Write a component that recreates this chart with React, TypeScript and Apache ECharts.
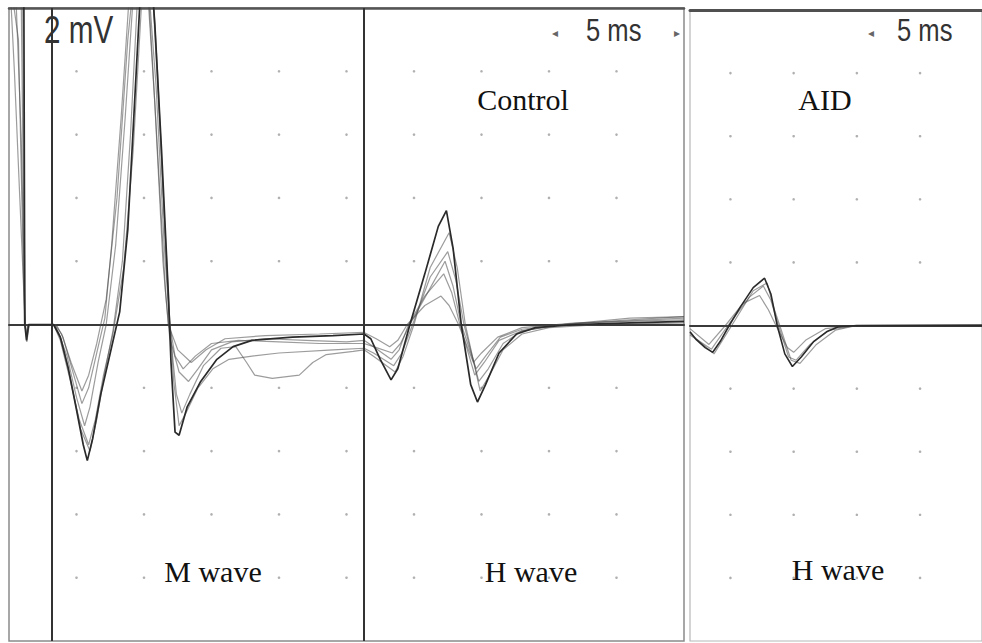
import React, { useEffect, useRef } from "react";
import * as echarts from "echarts";

// ---- axes / grid data ----
const leftTimeRange = [0, 50]; // ms, 5 ms per division
const rightTimeRange = [26.8, 49.9];
const voltRange = [-10, 10]; // mV, 2 mV per division
const dotTimesLeft = [5, 10, 15, 20, 25, 30, 35, 40, 45];
const dotTimesRight = [30, 35, 40, 45];
const dotVolts = [-8, -6, -4, -2, 2, 4, 6, 8];
const cursorTimes = [3.2, 26.3];

// ---- Control sweeps (stimulus artifact, M wave, H wave) [ms, mV] ----
const sweepA = [
  [0.05, 11], [1.1, 10.5], [1.17, 0], [1.3, -0.5], [1.45, 0],
  [3.3, 0], [3.8, -0.4], [4.4, -1.4], [5.0, -2.7], [5.5, -3.8], [5.8, -4.3], [6.2, -3.6], [6.8, -2.2], [7.5, -0.9],
  [8.2, 0.4], [8.8, 3.0], [9.3, 7.0], [9.8, 11], [10.3, 12.5], [10.8, 9.5], [11.3, 5.5], [11.8, 1.0], [12.0, -1.2],
  [12.3, -3.4], [12.6, -3.5], [13.2, -2.6], [14.2, -1.8], [15.4, -1.1], [16.6, -0.7], [18, -0.5], [21, -0.4],
  [24, -0.35], [26.3, -0.3],
  [26.8, -0.45], [27.5, -1.1], [28.3, -1.75], [28.8, -1.4], [29.7, 0], [30.8, 1.6], [31.8, 3.1], [32.4, 3.6],
  [32.9, 2.4], [33.5, 0], [34.2, -1.9], [34.7, -2.45], [35.3, -1.9], [36.3, -0.9], [37.6, -0.3], [39, -0.1],
  [42, 0], [46, 0.05], [50, 0.1],
];
const sweepB = [
  [0.05, 11], [0.9, 10.5], [1.16, 0.3], [1.3, -0.4], [1.5, 0],
  [3.4, 0], [3.9, -0.5], [4.6, -1.8], [5.3, -3.3], [6.0, -4.0], [6.5, -3.0], [7.1, -1.5], [7.7, -0.2], [8.4, 2.0],
  [9.0, 6.0], [9.6, 11], [10.1, 12], [10.7, 10], [11.2, 6], [11.7, 1.5], [12.0, -0.5], [12.4, -2.2], [12.8, -2.8],
  [13.4, -2.2], [14.4, -1.3], [15.7, -0.75], [16.8, -0.7], [17.6, -1.2], [18.2, -1.6], [19.5, -1.7], [21.5, -1.6],
  [22.5, -1.2], [23.5, -0.95], [25.5, -0.85], [26.3, -0.8],
  [27, -1.0], [28.6, -1.5], [29.2, -1.0], [30.0, 0], [31.2, 1.8], [32.6, 2.9], [33.2, 1.8], [33.8, 0], [34.9, -2.1],
  [35.6, -1.6], [36.6, -0.8], [38, -0.3], [40, -0.1], [44, 0], [50, 0.05],
];
const sweepC = [
  [0.05, 11], [0.4, 8], [0.8, 4], [1.12, 0.8], [1.2, 0],
  [3.3, 0], [3.7, -0.3], [4.3, -1.0], [5.0, -2.3], [5.6, -3.2], [6.0, -2.6], [6.6, -1.2], [7.2, 0], [7.9, 2.5],
  [8.6, 6.5], [9.3, 11], [9.8, 12], [10.4, 10], [11.0, 5.5], [11.6, 1.0], [11.9, -0.4], [12.6, -1.5], [13.3, -1.8],
  [14.0, -1.4], [15.0, -0.8], [16.5, -0.55], [19, -0.45], [22, -0.5], [25, -0.55], [26.3, -0.5],
  [27, -0.7], [28.3, -1.1], [28.9, -0.8], [29.6, 0], [30.8, 0.9], [32.2, 1.6], [32.8, 1.0], [33.4, 0], [34.5, -1.6],
  [35.2, -1.2], [36.3, -0.5], [38, -0.2], [41, 0], [46, 0.15], [50, 0.25],
];
const sweepD = [
  [0.05, 11], [0.7, 9], [1.0, 3], [1.15, 0],
  [3.5, 0], [4.0, -0.4], [4.6, -1.3], [5.4, -2.5], [5.9, -2.0], [6.5, -0.9], [7.1, 0.2], [7.6, 2.5], [8.3, 6.5],
  [9.0, 11], [9.6, 12], [10.2, 11], [10.8, 7], [11.4, 2], [11.8, 0], [12.5, -0.8], [13.5, -1.2], [14.6, -0.8],
  [16, -0.45], [19, -0.35], [23, -0.3], [26.3, -0.25],
  [27.2, -0.45], [28.2, -0.7], [28.8, -0.5], [29.5, 0], [30.8, 0.6], [32.0, 0.9], [32.6, 0.6], [33.3, 0],
  [34.4, -1.2], [35.0, -0.9], [36.2, -0.4], [38, -0.1], [42, 0.05], [50, 0.15],
];
const sweepE = [
  [0.05, 11], [0.5, 10.5], [0.9, 6], [1.1, 2], [1.18, 0], [1.28, -0.3], [1.4, 0],
  [3.3, 0], [3.8, -0.5], [4.5, -1.7], [5.2, -3.0], [5.9, -3.8], [6.4, -3.0], [7.0, -1.6], [7.7, -0.3], [8.5, 1.8],
  [9.2, 5.5], [9.8, 10], [10.4, 12.5], [11.0, 8], [11.5, 3.5], [11.9, 0.2], [12.2, -1.8], [12.6, -3.2], [13.1, -2.8],
  [14.0, -2.0], [15.1, -1.4], [16.3, -1.1], [18, -1.0], [20, -0.9], [24, -0.8], [26.3, -0.75],
  [27.0, -0.9], [28.5, -1.3], [29.1, -0.9], [29.9, 0], [31.2, 1.5], [32.5, 2.3], [33.1, 1.4], [33.7, 0],
  [34.8, -1.8], [35.5, -1.4], [36.6, -0.6], [38, -0.2], [41, 0], [45, 0.1], [50, 0.2],
];
const sweepF = [
  [0.05, 11], [1.0, 10.8], [1.19, 0], [1.32, -0.55], [1.5, 0],
  [3.4, 0], [3.9, -0.3], [4.6, -1.2], [5.4, -2.1], [5.9, -1.6], [6.5, -0.6], [7.2, 0.8], [8.0, 4.0], [8.8, 9],
  [9.5, 12], [10.2, 11.5], [10.9, 7.5], [11.5, 2.5], [11.9, 0], [12.3, -1.0], [12.9, -1.4], [13.8, -1.0], [15, -0.6],
  [17, -0.5], [20, -0.55], [23, -0.6], [26.3, -0.6],
  [27, -0.7], [28.4, -0.9], [29.0, -0.6], [29.7, 0], [31.0, 1.0], [32.3, 2.0], [32.9, 1.2], [33.5, 0], [34.6, -1.4],
  [35.3, -1.0], [36.4, -0.4], [38, -0.15], [41, 0], [46, 0.2], [50, 0.25],
];

// ---- AID sweeps (H wave) ----
const aidA = [
  [26.8, -0.2], [27.3, -0.45], [28.0, -0.7], [28.6, -0.85], [29.2, -0.5], [29.9, 0], [30.8, 0.6], [31.8, 1.2],
  [32.7, 1.5], [33.2, 1.0], [33.7, 0], [34.3, -0.9], [34.9, -1.3], [35.6, -1.0], [36.6, -0.5], [37.6, -0.2],
  [38.5, -0.05], [40, 0], [44, 0], [49.9, 0],
];
const aidB = [
  [26.8, -0.3], [28.5, -0.75], [29.8, 0], [31.5, 0.9], [32.6, 1.25], [33.2, 0.8], [33.8, 0], [34.6, -1.0],
  [35.2, -1.1], [36.3, -0.6], [37.8, -0.15], [40, 0], [49.9, 0.02],
];
const aidC = [
  [26.8, -0.1], [28.3, -0.6], [29.6, 0], [31.0, 0.7], [32.3, 0.95], [33.0, 0.5], [33.6, 0], [34.5, -0.7],
  [35.0, -0.85], [36.0, -0.45], [37.5, -0.1], [40, 0], [49.9, 0],
];
const aidD = [
  [26.8, -0.25], [28.7, -0.9], [30.1, 0], [31.8, 1.1], [32.9, 1.35], [33.4, 0.6], [33.9, 0], [34.8, -1.1],
  [35.5, -1.2], [36.8, -0.6], [38.3, -0.15], [40, 0], [49.9, 0.03],
];

const controlSweeps = [sweepB, sweepC, sweepD, sweepE, sweepF, sweepA];
const aidSweeps = [aidB, aidC, aidD, aidA];

const amplitudeLabel = "2 mV";
const timeLabel = "5 ms";
const panelLabels = ["Control", "AID"];
const waveLabels = ["M wave", "H wave", "H wave"];

export default function App() {
  const ref = useRef<HTMLDivElement>(null);
  useEffect(() => {
    document.body.style.margin = "0";
    if (!ref.current) return;
    const chart = echarts.init(ref.current, undefined, { renderer: "svg" });

    const hiddenAxis = {
      type: "value" as const,
      axisTick: { show: false },
      axisLabel: { show: false },
      splitLine: { show: false },
    };
    const dots = (times: number[]) =>
      times.flatMap((t) => dotVolts.map((v) => [t, v]));

    const traceColor = "rgba(75,75,75,0.55)";
    const darkColor = "#2a2a2a";

    const series: any[] = [
      {
        type: "scatter",
        xAxisIndex: 0,
        yAxisIndex: 0,
        data: dots(dotTimesLeft),
        symbolSize: 2.6,
        itemStyle: { color: "#9c9c9c" },
        silent: true,
        markLine: {
          silent: true,
          symbol: ["none", "none"],
          label: { show: false },
          lineStyle: { color: "#333", width: 2, type: "solid" },
          data: cursorTimes.map((t) => ({ xAxis: t })),
        },
      },
      {
        type: "scatter",
        xAxisIndex: 2,
        yAxisIndex: 1,
        data: dots(dotTimesRight),
        symbolSize: 2.6,
        itemStyle: { color: "#9c9c9c" },
        silent: true,
      },
    ];
    controlSweeps.forEach((s, i) => {
      const dark = i === controlSweeps.length - 1;
      series.push({
        type: "line",
        xAxisIndex: 0,
        yAxisIndex: 0,
        data: s,
        showSymbol: false,
        symbol: "none",
        clip: true,
        lineStyle: { color: dark ? darkColor : traceColor, width: dark ? 1.7 : 1.2 },
        z: dark ? 4 : 3,
      });
    });
    aidSweeps.forEach((s, i) => {
      const dark = i === aidSweeps.length - 1;
      series.push({
        type: "line",
        xAxisIndex: 2,
        yAxisIndex: 1,
        data: s,
        showSymbol: false,
        symbol: "none",
        clip: true,
        lineStyle: { color: dark ? darkColor : traceColor, width: dark ? 1.6 : 1.2 },
        z: dark ? 4 : 3,
      });
    });

    const sansBig = (size: number) => `${size}px "Liberation Sans Narrow", "Liberation Sans", Arial, sans-serif`;
    const serif = (size: number) => `${size}px "Liberation Serif", "DejaVu Serif", serif`;

    chart.setOption({
      animation: false,
      backgroundColor: "#ffffff",
      grid: [
        { left: 9, top: 8, width: 675, height: 633, show: true, borderColor: "#8a8a8a", borderWidth: 1.5 },
        { left: 690, top: 10, width: 300, height: 631, show: true, borderColor: "#b8b8b8", borderWidth: 1.2 },
      ],
      xAxis: [
        {
          ...hiddenAxis, gridIndex: 0, min: leftTimeRange[0], max: leftTimeRange[1],
          axisLine: { show: true, onZero: true, lineStyle: { color: "#3a3a3a", width: 2 } },
        },
        {
          ...hiddenAxis, gridIndex: 0, position: "top", min: leftTimeRange[0], max: leftTimeRange[1],
          axisLine: { show: true, onZero: false, lineStyle: { color: "#555", width: 2.5 } },
        },
        {
          ...hiddenAxis, gridIndex: 1, min: rightTimeRange[0], max: rightTimeRange[1],
          axisLine: { show: true, onZero: true, lineStyle: { color: "#3a3a3a", width: 2 } },
        },
        {
          ...hiddenAxis, gridIndex: 1, position: "top", min: rightTimeRange[0], max: rightTimeRange[1],
          axisLine: { show: true, onZero: false, lineStyle: { color: "#505050", width: 3 } },
        },
      ],
      yAxis: [
        { ...hiddenAxis, gridIndex: 0, min: voltRange[0], max: voltRange[1], axisLine: { show: false } },
        { ...hiddenAxis, gridIndex: 1, min: voltRange[0], max: voltRange[1], axisLine: { show: false } },
      ],
      series,
      graphic: [
        {
          type: "text", x: 44, y: 30, scaleX: 0.78, z: 10,
          style: { text: amplitudeLabel, font: sansBig(38), fill: "#333", align: "left", verticalAlign: "middle" },
        },
        {
          type: "text", x: 586, y: 30, scaleX: 0.8, z: 10,
          style: { text: timeLabel, font: sansBig(32), fill: "#333", align: "left", verticalAlign: "middle" },
        },
        {
          type: "text", x: 897, y: 30, scaleX: 0.8, z: 10,
          style: { text: timeLabel, font: sansBig(32), fill: "#333", align: "left", verticalAlign: "middle" },
        },
        { type: "text", x: 555, y: 33, z: 10, style: { text: "◂", font: '12px "DejaVu Sans"', fill: "#666", align: "center", verticalAlign: "middle" } },
        { type: "text", x: 677, y: 33, z: 10, style: { text: "▸", font: '12px "DejaVu Sans"', fill: "#666", align: "center", verticalAlign: "middle" } },
        { type: "text", x: 871, y: 33, z: 10, style: { text: "◂", font: '12px "DejaVu Sans"', fill: "#666", align: "center", verticalAlign: "middle" } },
        { type: "text", x: 523, y: 99, z: 10, style: { text: panelLabels[0], font: serif(30), fill: "#111", align: "center", verticalAlign: "middle" } },
        { type: "text", x: 825, y: 99, z: 10, style: { text: panelLabels[1], font: serif(30), fill: "#111", align: "center", verticalAlign: "middle" } },
        { type: "text", x: 213, y: 571, z: 10, style: { text: waveLabels[0], font: serif(30), fill: "#111", align: "center", verticalAlign: "middle" } },
        { type: "text", x: 531, y: 571, z: 10, style: { text: waveLabels[1], font: serif(30), fill: "#111", align: "center", verticalAlign: "middle" } },
        { type: "text", x: 838, y: 569, z: 10, style: { text: waveLabels[2], font: serif(30), fill: "#111", align: "center", verticalAlign: "middle" } },
      ],
    });
    return () => chart.dispose();
  }, []);
  return <div ref={ref} style={{ width: 982, height: 643 }} />;
}
